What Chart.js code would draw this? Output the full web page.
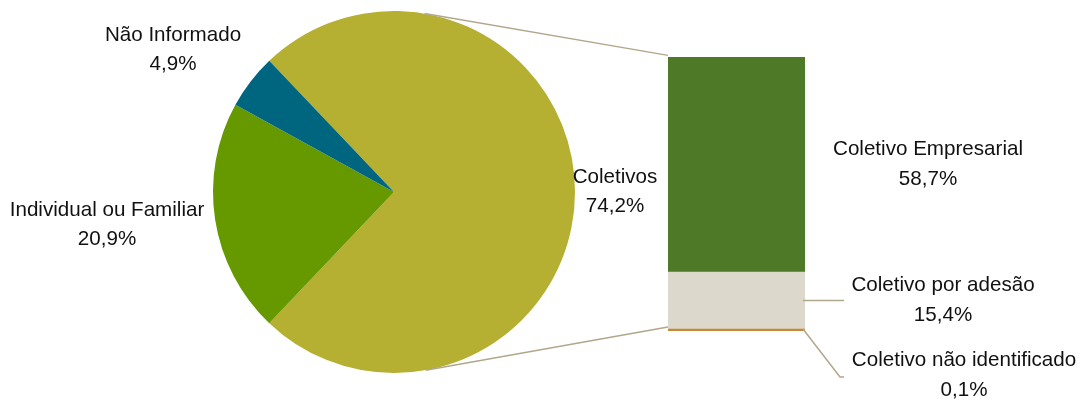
<!DOCTYPE html>
<html>
<head>
<meta charset="utf-8">
<script src="https://cdn.jsdelivr.net/npm/chart.js@4"></script>
<style>
    body { margin: 0; background: #ffffff; }
    #wrap { position: relative; width: 1083px; height: 400px; }
    #wrap canvas { position: absolute; left: 0; top: 0; }
</style>
</head>
<body>
<div id="wrap">
    <canvas id="pieChart" width="1083" height="400"></canvas>
    <canvas id="barChart" width="1083" height="400"></canvas>
</div>
<script>
// dados
const pieLabels = ["Coletivos", "Individual ou Familiar", "Não Informado"];
const pieValues = [74.2, 20.9, 4.9];
const barLabels = ["Coletivo não identificado", "Coletivo por adesão", "Coletivo Empresarial"];
const barValues = [0.1, 15.4, 58.7];

const pieColors = ["#B5AF32", "#669900", "#00667F"];
const barColors = ["#C8863A", "#DCD8CB", "#4E7A28"];
const lineColor = "#B1A78C";
const fonte = '20.6px "Liberation Sans", Arial, sans-serif';

function pct(v) {
    return v.toFixed(1).replace(".", ",") + "%";
}

function escrever(ctx, linhas, x, y, alturaLinha) {
    ctx.save();
    ctx.font = fonte;
    ctx.fillStyle = "#111111";
    ctx.textAlign = "center";
    ctx.textBaseline = "alphabetic";
    linhas.forEach((t, i) => ctx.fillText(t, x, y + i * alturaLinha));
    ctx.restore();
}

// posicoes dos rotulos (centro x, linha de base)
const pieLabelPos = [[615, 183], [107, 216], [173, 41]];
const barLabelPos = [[964, 366], [943, 291], [928, 155]];

const total = pieValues.reduce((a, b) => a + b, 0);
const barTotal = barValues.reduce((a, b) => a + b, 0);

// barra empilhada
const barCanvas = document.getElementById("barChart");
const barChart = new Chart(barCanvas, {
    type: "bar",
    data: {
        labels: ["Coletivos"],
        datasets: barValues.map((v, i) => ({
            label: barLabels[i],
            data: [v],
            backgroundColor: barColors[i],
            borderWidth: 0,
            barPercentage: 1,
            categoryPercentage: 1,
            minBarLength: i === 0 ? 2 : 0
        }))
    },
    options: {
        responsive: false,
        animation: false,
        events: [],
        layout: { padding: { left: 668, right: 278, top: 57, bottom: 69 } },
        scales: {
            x: { display: false, stacked: true },
            y: { display: false, stacked: true, min: 0, max: barTotal }
        },
        plugins: { legend: { display: false }, tooltip: { enabled: false } }
    },
    plugins: [{
        id: "rotulosBarra",
        afterDatasetsDraw(chart) {
            const ctx = chart.ctx;
            ctx.save();
            ctx.strokeStyle = lineColor;
            ctx.lineWidth = 1.5;
            // linha guia: adesao
            const b1 = chart.getDatasetMeta(1).data[0];
            const right = b1.x + b1.width / 2;
            const midY = (b1.y + b1.base) / 2;
            ctx.beginPath();
            ctx.moveTo(right - 2, midY);
            ctx.lineTo(right + 39, midY);
            ctx.stroke();
            // linha guia: nao identificado
            const b0 = chart.getDatasetMeta(0).data[0];
            ctx.beginPath();
            ctx.moveTo(right - 2, b0.y);
            ctx.lineTo(right + 35, b0.y + 48);
            ctx.lineTo(right + 39, b0.y + 48);
            ctx.stroke();
            ctx.restore();

            barValues.forEach((v, i) => {
                const p = barLabelPos[i];
                escrever(ctx, [barLabels[i], pct(v)], p[0], p[1], 29.5);
            });
        }
    }]
});

// pizza
const pieCanvas = document.getElementById("pieChart");
new Chart(pieCanvas, {
    type: "pie",
    data: {
        labels: pieLabels,
        datasets: [{
            data: pieValues,
            backgroundColor: pieColors,
            borderWidth: 0
        }]
    },
    options: {
        responsive: false,
        animation: false,
        events: [],
        rotation: 90 - (pieValues[0] / total) * 180,
        layout: { padding: { left: 213, right: 508, top: 11, bottom: 27 } },
        plugins: { legend: { display: false }, tooltip: { enabled: false } }
    },
    plugins: [{
        id: "conectores",
        afterDatasetsDraw(chart) {
            const ctx = chart.ctx;
            const arc = chart.getDatasetMeta(0).data[0];
            const cx = arc.x, cy = arc.y, r = arc.outerRadius;
            const topo = barChart.getDatasetMeta(2).data[0];
            const base = barChart.getDatasetMeta(0).data[0];
            const left = topo.x - topo.width / 2;
            const pontos = [[left, topo.y, -1], [left, base.base - 4, 1]];
            ctx.save();
            ctx.strokeStyle = lineColor;
            ctx.lineWidth = 1.5;
            pontos.forEach(([px, py, s]) => {
                const dx = px - cx, dy = py - cy;
                const d = Math.hypot(dx, dy);
                const a = Math.atan2(dy, dx) + s * Math.acos(r / d);
                ctx.beginPath();
                ctx.moveTo(cx + r * Math.cos(a), cy + r * Math.sin(a));
                ctx.lineTo(px, py);
                ctx.stroke();
            });
            ctx.restore();

            pieValues.forEach((v, i) => {
                const p = pieLabelPos[i];
                escrever(ctx, [pieLabels[i], pct(v)], p[0], p[1], 29);
            });
        }
    }]
});
</script>
</body>
</html>
